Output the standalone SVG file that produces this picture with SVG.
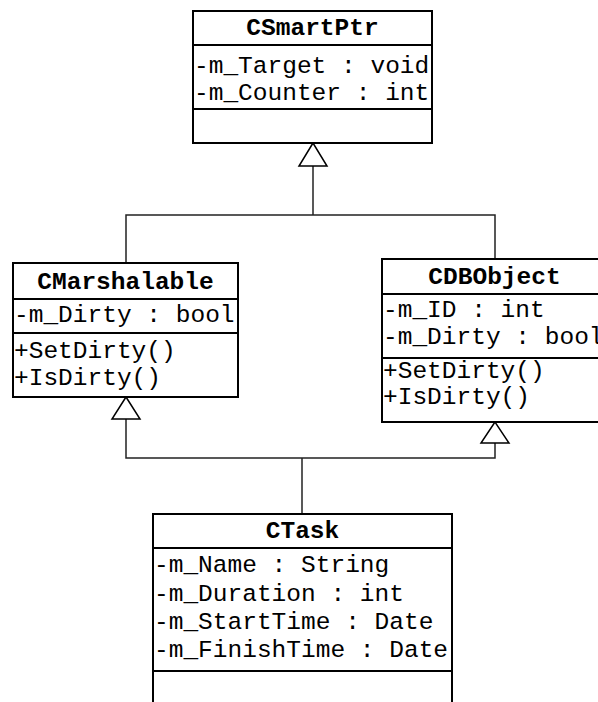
<svg xmlns="http://www.w3.org/2000/svg" width="598" height="702" viewBox="0 0 598 702">
<style>
.box{fill:#fff;stroke:#000;stroke-width:2}
.div{stroke:#000;stroke-width:2}
.t{font-family:"Liberation Mono","Courier New",monospace;font-size:24.5px;fill:#000}
.title{font-weight:bold;text-anchor:middle}
.con{fill:none;stroke:#222;stroke-width:1.5}
.tri{fill:#fff;stroke:#000;stroke-width:1.5}
</style>
<rect width="598" height="702" fill="#fff"/>
<g id="connectors">
<polyline class="con" points="313,166 313,215"/>
<polyline class="con" points="126,263 126,215 495,215 495,259"/>
<polyline class="con" points="126,419 126,458 495,458 495,443"/>
<polyline class="con" points="302,458 302,514"/>
<polygon class="tri" points="313,143 299,166 327,166"/>
<polygon class="tri" points="126,397 112,419 140,419"/>
<polygon class="tri" points="495,422 481,443 509,443"/>
</g>
<g id="CSmartPtr">
<rect class="box" x="193" y="11" width="239" height="132"/>
<line class="div" x1="193" y1="45" x2="432" y2="45"/>
<line class="div" x1="193" y1="109" x2="432" y2="109"/>
<text class="t title" x="312.5" y="35">CSmartPtr</text>
<text class="t" x="194" y="73">-m_Target : void</text>
<text class="t" x="194" y="100">-m_Counter : int</text>
</g>
<g id="CMarshalable">
<rect class="box" x="13" y="263" width="225" height="134"/>
<line class="div" x1="13" y1="299" x2="238" y2="299"/>
<line class="div" x1="13" y1="333" x2="238" y2="333"/>
<text class="t title" x="125.5" y="289">CMarshalable</text>
<text class="t" x="14" y="322">-m_Dirty : bool</text>
<text class="t" x="14" y="358">+SetDirty()</text>
<text class="t" x="14" y="385">+IsDirty()</text>
</g>
<g id="CDBObject">
<rect class="box" x="382" y="259" width="225" height="163"/>
<line class="div" x1="382" y1="294" x2="607" y2="294"/>
<line class="div" x1="382" y1="358" x2="607" y2="358"/>
<text class="t title" x="494.5" y="284">CDBObject</text>
<text class="t" x="383" y="317">-m_ID : int</text>
<text class="t" x="383" y="344">-m_Dirty : bool</text>
<text class="t" x="383" y="378">+SetDirty()</text>
<text class="t" x="383" y="404">+IsDirty()</text>
</g>
<g id="CTask">
<rect class="box" x="153" y="514" width="299" height="210"/>
<line class="div" x1="153" y1="548" x2="452" y2="548"/>
<line class="div" x1="153" y1="671" x2="452" y2="671"/>
<text class="t title" x="302.5" y="538">CTask</text>
<text class="t" x="154" y="572">-m_Name : String</text>
<text class="t" x="154" y="601">-m_Duration : int</text>
<text class="t" x="154" y="629">-m_StartTime : Date</text>
<text class="t" x="154" y="657">-m_FinishTime : Date</text>
</g>
</svg>
